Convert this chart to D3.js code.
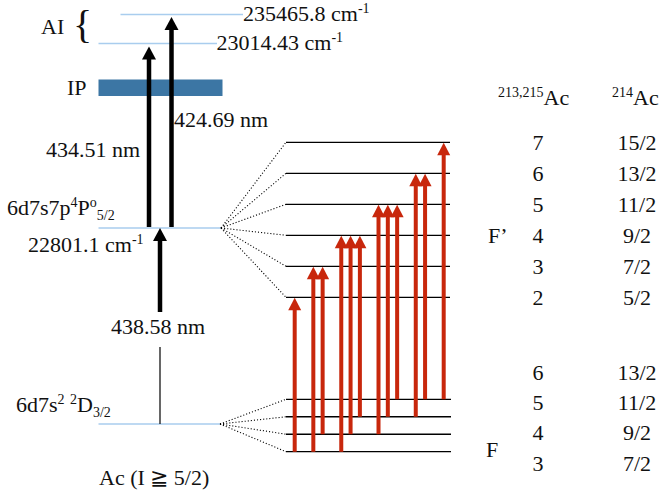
<!DOCTYPE html>
<html><head><meta charset="utf-8">
<script src="https://cdn.jsdelivr.net/npm/d3@7"></script>
<style>html,body{margin:0;padding:0;background:#fff;}svg{display:block;} text{font-family:"Liberation Serif","Times New Roman","DejaVu Serif",serif;}</style>
</head><body>
<script>
// ---------- data ----------
const upperF = [2, 3, 4, 5, 6, 7];
const upperF214 = ["5/2", "7/2", "9/2", "11/2", "13/2", "15/2"];
const lowerF = [3, 4, 5, 6];
const lowerF214 = ["7/2", "9/2", "11/2", "13/2"];
// hyperfine transitions F -> F'
const transFrom = [3, 3, 4, 3, 4, 5, 4, 5, 6, 5, 6, 6];
const transTo   = [2, 3, 3, 4, 4, 4, 5, 5, 5, 6, 6, 7];
// laser steps
const stepLabels = ["438.58 nm", "434.51 nm", "424.69 nm"];
const levelNames = ["ground", "excited", "AI1", "AI2"];
const levelEnergies = ["", "22801.1", "23014.43", "235465.8"];

// ---------- layout ----------
const W = 663, H = 492;
const FONT = "Liberation Serif, Times New Roman, DejaVu Serif, serif";
const RED = "#c8270c", BLUE_LINE = "#a9cdee", IP_COL = "#3c76a4";
const svg = d3.select("body").append("svg").attr("width", W).attr("height", H);
svg.append("rect").attr("width", W).attr("height", H).attr("fill", "#fff");

const levelY = d3.scaleOrdinal().domain(levelNames).range([424, 228, 43.5, 14.5]);
const yUp = d3.scaleLinear().domain([2, 7]).range([297.3, 142.3]);
const yLo = d3.scaleLinear().domain([3, 6]).range([451.7, 399.3]);
const yLoLab = d3.scaleLinear().domain([3, 6]).range([463, 372]);
const xSlot = d3.scaleLinear().domain([0, 16]).range([294.7, 443.7]);

function rich(x, y, parts, anchor) {
  const t = svg.append("text").attr("x", x).attr("y", y).attr("font-size", 22)
    .attr("font-family", FONT)
    .attr("fill", "#111").attr("text-anchor", anchor || "start");
  let off = 0;
  parts.forEach(p => {
    const s = typeof p === "string" ? {t: p} : p;
    let target = 0, fs = 22;
    if (s.sup) { target = -8; fs = 14; }
    if (s.sub) { target = 5; fs = 14; }
    t.append("tspan").attr("dy", target - off).attr("font-size", fs).text(s.t);
    off = target;
  });
  return t;
}

// arrow helper
function arrow(g, x, y0, y1, color, shaftW, headW, headH) {
  g.append("line").attr("x1", x).attr("x2", x).attr("y1", y0).attr("y2", y1 + headH - 1)
    .attr("stroke", color).attr("stroke-width", shaftW);
  g.append("path").attr("d", `M${x},${y1} L${x - headW / 2},${y1 + headH} L${x + headW / 2},${y1 + headH} Z`)
    .attr("fill", color);
}

// ---------- fine structure levels ----------
const gL = svg.append("g");
gL.append("line").attr("x1", 120.5).attr("x2", 243).attr("y1", levelY("AI2")).attr("y2", levelY("AI2"))
  .attr("stroke", BLUE_LINE).attr("stroke-width", 1.5);
gL.append("line").attr("x1", 98.5).attr("x2", 217).attr("y1", levelY("AI1")).attr("y2", levelY("AI1"))
  .attr("stroke", BLUE_LINE).attr("stroke-width", 1.5);
gL.append("line").attr("x1", 98.5).attr("x2", 221).attr("y1", levelY("excited")).attr("y2", levelY("excited"))
  .attr("stroke", BLUE_LINE).attr("stroke-width", 1.5);
gL.append("line").attr("x1", 98.5).attr("x2", 220).attr("y1", levelY("ground")).attr("y2", levelY("ground"))
  .attr("stroke", BLUE_LINE).attr("stroke-width", 1.5);
gL.append("rect").attr("x", 98.5).attr("y", 79.5).attr("width", 124).attr("height", 16.5).attr("fill", IP_COL);
gL.append("line").attr("x1", 160).attr("x2", 160).attr("y1", 347).attr("y2", levelY("ground"))
  .attr("stroke", "#000").attr("stroke-width", 1.2);

// black laser arrows
arrow(gL, 160, 312, levelY("excited"), "#000", 4.5, 14, 13);
arrow(gL, 149, levelY("excited") - 1, 46.5, "#000", 4.5, 14, 13);
arrow(gL, 171.5, levelY("excited") - 1, 17, "#000", 4.5, 14, 13);

// ---------- hyperfine levels ----------
const gH = svg.append("g");
upperF.forEach(f => {
  gH.append("line").attr("x1", 286).attr("x2", 450).attr("y1", yUp(f)).attr("y2", yUp(f))
    .attr("stroke", "#000").attr("stroke-width", 1.3);
  gH.append("line").attr("x1", 221).attr("y1", levelY("excited")).attr("x2", 286).attr("y2", yUp(f))
    .attr("stroke", "#000").attr("stroke-width", 1.1).attr("stroke-dasharray", "1.1,2");
});
lowerF.forEach(f => {
  gH.append("line").attr("x1", 286).attr("x2", 451).attr("y1", yLo(f)).attr("y2", yLo(f))
    .attr("stroke", "#000").attr("stroke-width", 1.3);
  gH.append("line").attr("x1", 220).attr("y1", levelY("ground")).attr("x2", 286).attr("y2", yLo(f))
    .attr("stroke", "#000").attr("stroke-width", 1.1).attr("stroke-dasharray", "1.1,2");
});
transFrom.forEach((f, i) => {
  const fp = transTo[i];
  const x = xSlot(i + fp - 2);
  arrow(gH, x, yLo(f), yUp(fp) + 0.5, RED, 4, 13, 12.5);
});

// ---------- texts ----------
rich(41, 33.5, ["AI"]);
svg.append("text").attr("x", 73).attr("y", 38).attr("font-size", 40).attr("font-family", FONT)
  .attr("fill", "#111").text("{");
rich(243, 21, [levelEnergies[3] + " cm", {t: "-1", sup: true}]);
rich(216.5, 50, [levelEnergies[2] + " cm", {t: "-1", sup: true}]);
rich(67, 95, ["IP"]);
rich(174, 127, [stepLabels[2]]);
rich(46, 157, [stepLabels[1]]);
rich(7, 215, ["6d7s7p", {t: "4", sup: true}, "P", {t: "o", sup: true}, {t: "5/2", sub: true}]);
rich(28, 252, [levelEnergies[1] + " cm", {t: "-1", sup: true}]);
rich(111, 334, [stepLabels[0]]);
rich(16, 412, ["6d7s", {t: "2", sup: true}, {t: " "}, {t: "2", sup: true}, "D", {t: "3/2", sub: true}]);
rich(99, 485, ["Ac (I \u2267 5/2)"]);

// right columns
rich(498, 105, [{t: "213,215", sup: true}, "Ac"]);
rich(612, 105, [{t: "214", sup: true}, "Ac"]);
upperF.forEach((f, i) => {
  rich(538, yUp(f) + 7.5, [String(f)], "middle");
  rich(637, yUp(f) + 7.5, [upperF214[i]], "middle");
});
lowerF.forEach((f, i) => {
  rich(538, yLoLab(f) + 7.5, [String(f)], "middle");
  rich(637, yLoLab(f) + 7.5, [lowerF214[i]], "middle");
});
rich(488, 243, ["F\u2019"]);
rich(486, 457, ["F"]);
</script>
</body></html>
